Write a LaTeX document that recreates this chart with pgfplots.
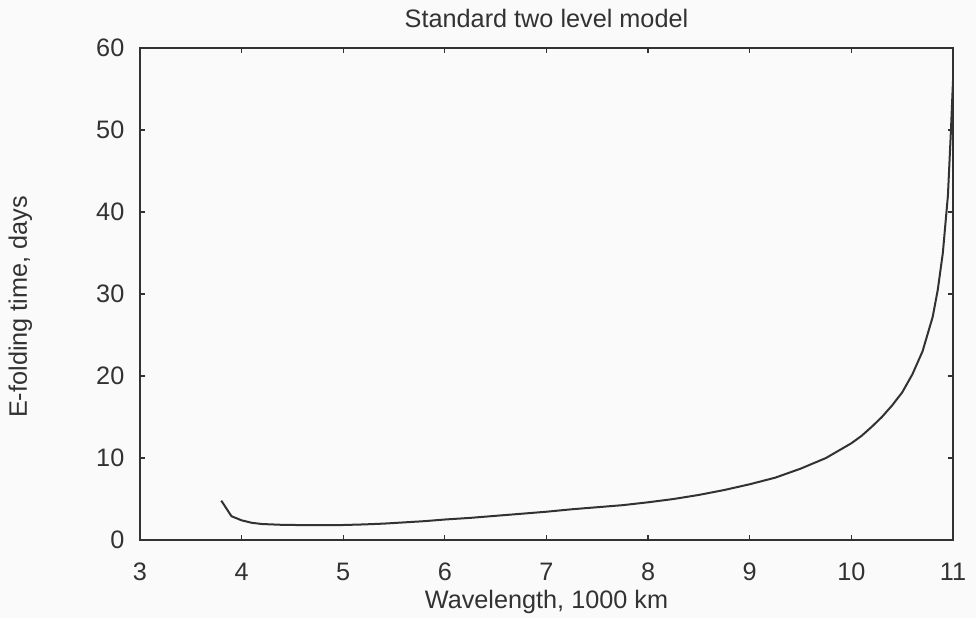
\documentclass[border=0pt]{standalone}
\usepackage{pgfplots}
\pgfplotsset{compat=1.18}
\usepackage{fontspec}
\setmainfont{Liberation Sans}
\definecolor{ink}{RGB}{50,50,50}
\definecolor{bg}{RGB}{250,250,250}
\pgfplotstableread{
x y
3.8 4.8
3.9 2.9
4.0 2.4
4.1 2.1
4.2 1.95
4.4 1.85
4.6 1.82
4.8 1.82
5.0 1.83
5.2 1.9
5.4 2.0
5.6 2.15
5.8 2.3
6.0 2.5
6.25 2.7
6.5 2.95
6.75 3.2
7.0 3.45
7.25 3.75
7.5 4.0
7.75 4.25
8.0 4.6
8.25 5.0
8.5 5.5
8.75 6.1
9.0 6.8
9.25 7.6
9.5 8.7
9.75 10.0
10.0 11.8
10.1 12.7
10.2 13.8
10.3 15.0
10.4 16.4
10.5 18.0
10.6 20.2
10.7 23.0
10.8 27.2
10.85 30.5
10.9 35.0
10.95 42
10.98 50
11.0 56
}\datatable
\begin{document}
\fontsize{10.1}{12}\selectfont
\begin{tikzpicture}
\fill[bg] (-56pt,-31.2pt) rectangle (334.4pt,216pt);
\useasboundingbox (-56pt,-31.2pt) rectangle (334.4pt,216pt);
\begin{axis}[
  at={(0,0)}, anchor=south west,
  scale only axis,
  width=325.2pt, height=196.8pt,
  xmin=3, xmax=11, ymin=0, ymax=60,
  xtick={3,4,5,6,7,8,9,10,11},
  ytick={0,10,20,30,40,50,60},
  tick align=inside,
  major tick length=2pt,
  every tick/.style={ink, line width=0.5pt},
  axis line style={ink, line width=0.6pt},
  /pgf/number format/assume math mode=true,
  tick label style={font=\fontsize{10.1}{12}\selectfont, text=ink},
  xticklabel style={yshift=-5.5pt},
  yticklabel style={xshift=-2.7pt},
  every axis title shift=0pt,
  title={Standard two level model},
  title style={at={(axis description cs:0.5,1.0427)}, anchor=base, font=\fontsize{10.1}{12}\selectfont, text=ink},
  xlabel={Wavelength, 1000 km},
  xlabel style={at={(axis description cs:0.5,-0.1382)}, anchor=base, font=\fontsize{10.1}{12}\selectfont, text=ink},
  ylabel={E-folding time, days},
  ylabel style={at={(axis description cs:-0.139,0.4736)}, anchor=base, rotate=0, font=\fontsize{10.1}{12}\selectfont, text=ink},
]
\addplot[ink, line width=0.8pt, no markers] table[x=x,y=y] {\datatable};
\end{axis}
\end{tikzpicture}
\end{document}
